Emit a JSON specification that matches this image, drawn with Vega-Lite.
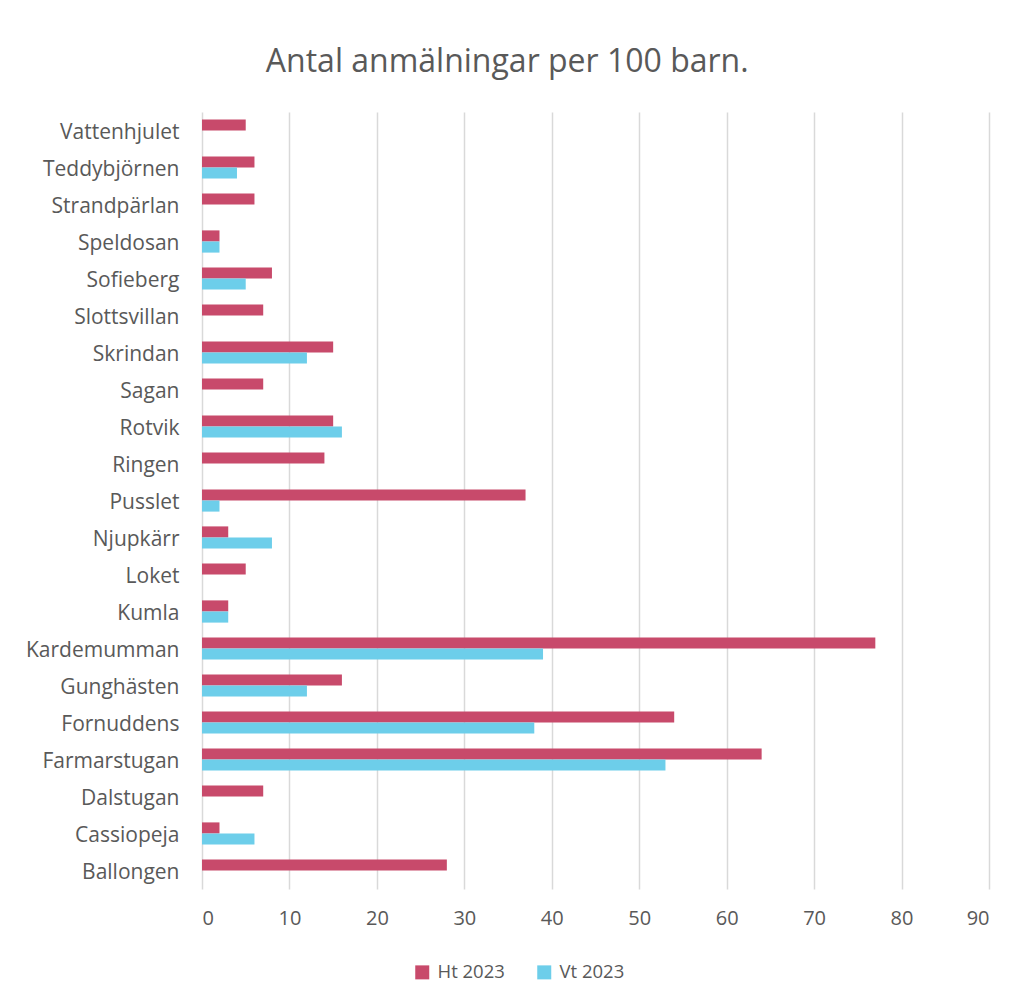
{
  "$schema": "https://vega.github.io/schema/vega-lite/v6.json",
  "width": 787,
  "height": 777,
  "autosize": {"type": "none"},
  "padding": {"left": 202, "top": 112, "right": 28, "bottom": 111},
  "background": "white",
  "title": {
    "text": "Antal anmälningar per 100 barn.",
    "font": "Open Sans",
    "fontSize": 32,
    "fontWeight": "normal",
    "color": "#595959",
    "anchor": "middle",
    "frame": "bounds",
    "offset": 33
  },
  "data": {
    "values": [
      {"forskola": "Vattenhjulet", "termin": "Ht 2023", "antal": 5},
      {"forskola": "Teddybjörnen", "termin": "Ht 2023", "antal": 6},
      {"forskola": "Teddybjörnen", "termin": "Vt 2023", "antal": 4},
      {"forskola": "Strandpärlan", "termin": "Ht 2023", "antal": 6},
      {"forskola": "Speldosan", "termin": "Ht 2023", "antal": 2},
      {"forskola": "Speldosan", "termin": "Vt 2023", "antal": 2},
      {"forskola": "Sofieberg", "termin": "Ht 2023", "antal": 8},
      {"forskola": "Sofieberg", "termin": "Vt 2023", "antal": 5},
      {"forskola": "Slottsvillan", "termin": "Ht 2023", "antal": 7},
      {"forskola": "Skrindan", "termin": "Ht 2023", "antal": 15},
      {"forskola": "Skrindan", "termin": "Vt 2023", "antal": 12},
      {"forskola": "Sagan", "termin": "Ht 2023", "antal": 7},
      {"forskola": "Rotvik", "termin": "Ht 2023", "antal": 15},
      {"forskola": "Rotvik", "termin": "Vt 2023", "antal": 16},
      {"forskola": "Ringen", "termin": "Ht 2023", "antal": 14},
      {"forskola": "Pusslet", "termin": "Ht 2023", "antal": 37},
      {"forskola": "Pusslet", "termin": "Vt 2023", "antal": 2},
      {"forskola": "Njupkärr", "termin": "Ht 2023", "antal": 3},
      {"forskola": "Njupkärr", "termin": "Vt 2023", "antal": 8},
      {"forskola": "Loket", "termin": "Ht 2023", "antal": 5},
      {"forskola": "Kumla", "termin": "Ht 2023", "antal": 3},
      {"forskola": "Kumla", "termin": "Vt 2023", "antal": 3},
      {"forskola": "Kardemumman", "termin": "Ht 2023", "antal": 77},
      {"forskola": "Kardemumman", "termin": "Vt 2023", "antal": 39},
      {"forskola": "Gunghästen", "termin": "Ht 2023", "antal": 16},
      {"forskola": "Gunghästen", "termin": "Vt 2023", "antal": 12},
      {"forskola": "Fornuddens", "termin": "Ht 2023", "antal": 54},
      {"forskola": "Fornuddens", "termin": "Vt 2023", "antal": 38},
      {"forskola": "Farmarstugan", "termin": "Ht 2023", "antal": 64},
      {"forskola": "Farmarstugan", "termin": "Vt 2023", "antal": 53},
      {"forskola": "Dalstugan", "termin": "Ht 2023", "antal": 7},
      {"forskola": "Cassiopeja", "termin": "Ht 2023", "antal": 2},
      {"forskola": "Cassiopeja", "termin": "Vt 2023", "antal": 6},
      {"forskola": "Ballongen", "termin": "Ht 2023", "antal": 28}
    ]
  },
  "mark": {"type": "bar"},
  "encoding": {
    "y": {
      "field": "forskola",
      "type": "nominal",
      "sort": "descending",
      "scale": {"paddingInner": 0.4, "paddingOuter": 0.2},
      "axis": {
        "title": null,
        "ticks": false,
        "domain": false,
        "labelPadding": 23,
        "labelOffset": 2,
        "labelFontSize": 21,
        "labelFont": "Open Sans",
        "labelColor": "#595959"
      }
    },
    "yOffset": {"field": "termin", "type": "nominal", "sort": ["Ht 2023", "Vt 2023"]},
    "x": {
      "field": "antal",
      "type": "quantitative",
      "scale": {"domain": [0, 90], "nice": false},
      "axis": {
        "title": null,
        "values": [0, 10, 20, 30, 40, 50, 60, 70, 80, 90],
        "ticks": false,
        "domain": false,
        "grid": true,
        "gridColor": "#D9D9D9",
        "gridWidth": 1.5,
        "labelPadding": 19,
        "labelFontSize": 20,
        "labelFont": "Open Sans",
        "labelColor": "#595959"
      }
    },
    "color": {
      "field": "termin",
      "type": "nominal",
      "scale": {"domain": ["Ht 2023", "Vt 2023"], "range": ["#C84A6B", "#6DCEEA"]},
      "legend": {
        "title": null,
        "orient": "none",
        "direction": "horizontal",
        "legendX": 211,
        "legendY": 851,
        "symbolType": "square",
        "symbolSize": 196,
        "symbolStrokeWidth": 0,
        "labelFontSize": 18.5,
        "labelFont": "Open Sans",
        "labelColor": "#595959",
        "labelOffset": 6,
        "columnPadding": 30
      }
    }
  },
  "config": {"view": {"stroke": null}}
}
